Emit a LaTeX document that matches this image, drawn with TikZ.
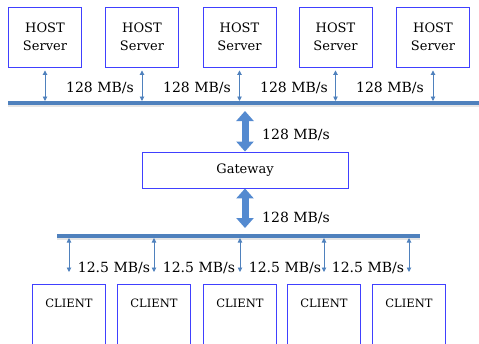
\documentclass[tikz,border=0pt]{standalone}
\usepackage{fontspec}
\setmainfont{DejaVu Serif}
\usetikzlibrary{arrows.meta}
\definecolor{boxblue}{RGB}{64,64,255}
\definecolor{busblue}{RGB}{79,129,189}
\definecolor{fatblue}{RGB}{84,138,208}
\begin{document}
\begin{tikzpicture}[x=1pt,y=-1pt,
  hostbox/.style={draw=boxblue, line width=0.9pt, minimum width=73pt, minimum height=60pt, align=center, font=\fontsize{13}{18}\selectfont},
  clientbox/.style={draw=boxblue, line width=0.9pt, minimum width=73pt, anchor=north, inner ysep=15pt, text depth=60pt, font=\fontsize{11.5}{14}\selectfont},
  gatebox/.style={draw=boxblue, line width=0.9pt, minimum width=206pt, minimum height=36pt, font=\fontsize{13}{16}\selectfont},
  bus/.style={draw=busblue, line width=4pt, preaction={draw=black!10, line width=4pt, transform canvas={yshift=-2pt}}},
  link/.style={draw=busblue, line width=0.9pt, {Triangle[width=4.5pt,length=4.5pt]}-{Triangle[width=4.5pt,length=4.5pt]}},
  fatlink/.style={draw=fatblue, line width=7pt, {Triangle[width=17pt,length=10pt]}-{Triangle[width=17pt,length=10pt]}},
  rate/.style={font=\fontsize{14}{16}\selectfont, inner sep=0pt}]
\useasboundingbox (0,0) rectangle (479,343);
\clip (0,0) rectangle (479,343);

% host side
\foreach \i/\x in {1/45,2/142,3/239.5,4/335.5,5/433} {
  \node[hostbox] (h\i) at (\x,37) {HOST\\Server};
  \coordinate (ht\i) at (\x,101);
  \draw[link, shorten <=3pt] (h\i.south) -- (ht\i);
}
\coordinate (busL) at (8,103);
\coordinate (busR) at (479,103);
\draw[bus] (busL) -- (busR);
\foreach \i/\x in {1/100,2/197,3/294,4/390}
  \node[rate] (hr\i) at (\x,88) {128 MB/s};

% gateway
\node[gatebox] (gw) at (245,170) {Gateway};
\coordinate (gtop) at (245,111);
\coordinate (gbot) at (245,228);
\draw[fatlink] (gtop) -- (gw.north);
\draw[fatlink] (gw.south) -- (gbot);
\node[rate, anchor=west] (gr1) at (262,135) {128 MB/s};
\node[rate, anchor=west] (gr2) at (262,218) {128 MB/s};

% client side
\coordinate (cbL) at (57,236);
\coordinate (cbR) at (420,236);
\draw[bus] (cbL) -- (cbR);
\foreach \i/\x in {1/69,2/154,3/240,4/324,5/409} {
  \node[clientbox] (c\i) at (\x,284) {CLIENT};
  \coordinate (cb\i) at (\x,238);
  \draw[link, shorten >=12pt] (cb\i) -- (c\i.north);
}
\foreach \i/\x in {1/114,2/199,3/285,4/368}
  \node[rate] (cr\i) at (\x,268) {12.5 MB/s};
\end{tikzpicture}
\end{document}
